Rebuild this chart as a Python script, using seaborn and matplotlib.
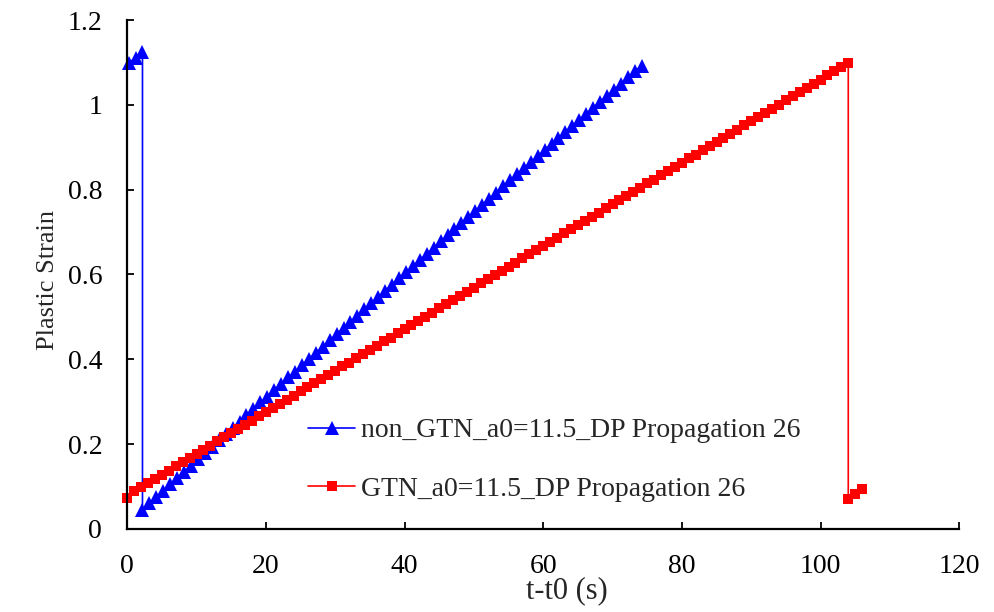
import numpy as np
import pandas as pd
import matplotlib
matplotlib.use("Agg")
import matplotlib.pyplot as plt
from matplotlib.ticker import FuncFormatter
import seaborn as sns

# --- DATA ---
BLUE_LABEL = "non_GTN_a0=11.5_DP Propagation 26"
RED_LABEL = "GTN_a0=11.5_DP Propagation 26"

# blue: short top segment, vertical drop at t=2.2, then the rising run
blue_top_t = [0.2, 1.2, 2.2]
blue_top_y = [1.100, 1.110, 1.125]
blue_run_t = np.round(np.arange(2.2, 74.3, 1.0), 1)
blue_run_y = [
    0.045, 0.060, 0.075, 0.090, 0.105, 0.120, 0.134, 0.149, 0.164, 0.179,
    0.194, 0.209, 0.224, 0.238, 0.253, 0.268, 0.283, 0.298, 0.312, 0.327,
    0.342, 0.357, 0.371, 0.386, 0.401, 0.415, 0.430, 0.445, 0.459, 0.474,
    0.489, 0.503, 0.518, 0.532, 0.547, 0.562, 0.576, 0.591, 0.605, 0.620,
    0.634, 0.649, 0.663, 0.678, 0.692, 0.707, 0.721, 0.736, 0.750, 0.764,
    0.779, 0.793, 0.808, 0.822, 0.836, 0.851, 0.865, 0.879, 0.894, 0.908,
    0.922, 0.936, 0.951, 0.965, 0.979, 0.994, 1.008, 1.022, 1.036, 1.050,
    1.065, 1.079, 1.093,
]

# red: rising run 0..104, vertical drop at t=104, then a short tail
red_run_t = np.arange(0, 105, 1.0)
red_run_y = [
    0.072, 0.088, 0.098, 0.108, 0.117, 0.127, 0.137, 0.147, 0.157, 0.167,
    0.176, 0.186, 0.196, 0.206, 0.216, 0.225, 0.235, 0.245, 0.255, 0.265,
    0.275, 0.284, 0.294, 0.304, 0.314, 0.324, 0.334, 0.343, 0.353, 0.363,
    0.373, 0.383, 0.392, 0.402, 0.412, 0.422, 0.432, 0.442, 0.451, 0.461,
    0.471, 0.481, 0.491, 0.500, 0.510, 0.520, 0.530, 0.540, 0.550, 0.559,
    0.569, 0.579, 0.589, 0.599, 0.608, 0.618, 0.628, 0.638, 0.648, 0.658,
    0.667, 0.677, 0.687, 0.697, 0.707, 0.716, 0.726, 0.736, 0.746, 0.756,
    0.766, 0.775, 0.785, 0.795, 0.805, 0.815, 0.824, 0.834, 0.844, 0.854,
    0.864, 0.874, 0.883, 0.893, 0.903, 0.913, 0.923, 0.932, 0.942, 0.952,
    0.962, 0.972, 0.982, 0.991, 1.001, 1.011, 1.021, 1.031, 1.040, 1.050,
    1.060, 1.070, 1.080, 1.090, 1.099,
]
red_tail_t = [104, 105, 106]
red_tail_y = [0.071, 0.082, 0.093]

blue = pd.DataFrame({"t": np.concatenate([blue_top_t, blue_run_t]),
                     "strain": np.concatenate([blue_top_y, blue_run_y])})
red = pd.DataFrame({"t": np.concatenate([red_run_t, red_tail_t]),
                    "strain": np.concatenate([red_run_y, red_tail_y])})

# --- PLOT ---
sns.set_style("ticks")
plt.rcParams["font.family"] = ["Liberation Serif", "DejaVu Serif"]

fig = plt.figure(figsize=(9.94, 6.12), dpi=100)
ax = fig.add_axes([0.128, 0.136, 0.837, 0.831])

sns.lineplot(data=blue, x="t", y="strain", ax=ax, color="#0000ff",
             estimator=None, sort=False, marker="^", markersize=9.5,
             markeredgewidth=0, linewidth=1.2, label=BLUE_LABEL, clip_on=False)
sns.lineplot(data=red, x="t", y="strain", ax=ax, color="#ff0000",
             estimator=None, sort=False, marker="s", markersize=7,
             markeredgewidth=0, linewidth=1.2, label=RED_LABEL, clip_on=False)

ax.set_xlim(0, 120)
ax.set_ylim(0, 1.2)
ax.set_xticks(range(0, 121, 20))
ax.set_yticks(np.arange(0, 1.21, 0.2))
ax.yaxis.set_major_formatter(FuncFormatter(lambda v, p: f"{v:g}"))
ax.tick_params(direction="in", length=5, width=1.3, labelsize=20, pad=18,
               colors="black")
for side in ["top", "right"]:
    ax.spines[side].set_visible(False)
for side in ["left", "bottom"]:
    ax.spines[side].set_linewidth(1.6)
    ax.spines[side].set_color("black")

ax.set_xlabel("t-t0 (s)", fontsize=22)
ax.set_ylabel("Plastic Strain", fontsize=19)
ax.xaxis.set_label_coords(0.528, -0.094)
ax.yaxis.set_label_coords(-0.082, 0.49)

ax.legend(loc="upper left", bbox_to_anchor=(0.296, 0.34), bbox_transform=fig.transFigure,
          frameon=False, fontsize=20, handlelength=1.7, handletextpad=0.2,
          labelspacing=1.2, borderpad=0)

fig.savefig("out.png", dpi=100)
